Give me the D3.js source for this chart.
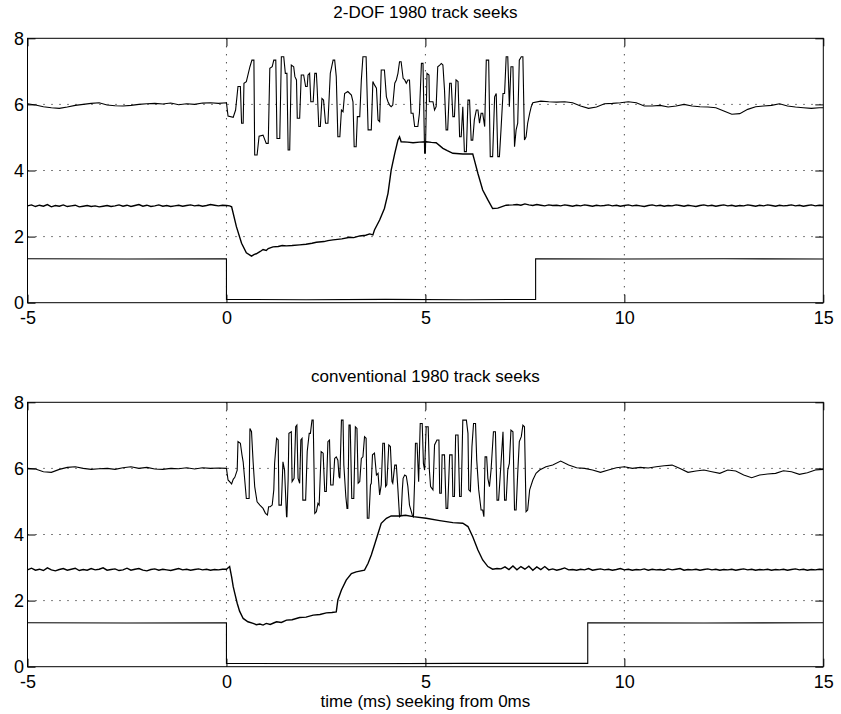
<!DOCTYPE html>
<html>
<head>
<meta charset="utf-8">
<script src="https://cdn.jsdelivr.net/npm/d3@7/dist/d3.min.js"></script>
<style>
  html, body { margin: 0; padding: 0; background: #fff; }
  svg { display: block; }
  text { font-family: "Liberation Sans", Arial, Helvetica, sans-serif; fill: #000; }
</style>
</head>
<body>
<svg id="chart" width="841" height="714"></svg>
<script>
// ---------------- DATA ----------------
const xTicks = [-5, 0, 5, 10, 15];
const yTicks = [0, 2, 4, 6, 8];
const gridX = [0, 5, 10];
const gridY = [2, 4, 6];
const titles = ["2-DOF 1980 track seeks", "conventional 1980 track seeks"];
const xLabel = "time (ms) seeking from 0ms";

// ---- top panel (2-DOF) ----
// upper trace (~6): pre-seek samples every 0.2 ms from -5 ms
const dofUpperPre = [6.02,5.98,5.93,5.90,5.88,5.92,5.97,6.00,6.03,6.05,5.98,5.96,5.95,5.97,6.00,6.02,6.03,6.01,6.04,5.99,6.02,6.00,6.04,6.05,6.03,6.05];
// upper trace during seek: [t, value]
const dofUpperSeek = [[0.00,6.05],[0.04,5.65],[0.17,5.61],[0.23,5.83],[0.29,6.54],[0.35,6.54],[0.38,5.43],[0.42,5.43],[0.44,6.64],[0.50,6.69],[0.59,7.14],[0.64,7.34],[0.69,7.34],[0.71,4.47],[0.77,4.47],[0.82,5.04],[0.92,5.07],[1.00,4.82],[1.05,4.82],[1.09,7.09],[1.15,7.14],[1.19,7.34],[1.24,7.34],[1.27,4.97],[1.34,4.97],[1.38,7.44],[1.44,7.44],[1.48,6.94],[1.52,6.94],[1.55,4.62],[1.59,4.62],[1.63,7.19],[1.69,7.14],[1.72,6.84],[1.76,6.74],[1.78,5.58],[1.84,5.58],[1.88,6.89],[1.94,6.89],[1.99,6.54],[2.03,6.54],[2.05,6.89],[2.09,6.94],[2.12,6.08],[2.18,6.08],[2.22,6.94],[2.26,6.94],[2.28,6.49],[2.32,5.33],[2.36,5.33],[2.40,6.18],[2.44,6.13],[2.49,5.43],[2.55,5.43],[2.61,6.94],[2.68,7.34],[2.72,7.34],[2.76,6.84],[2.80,5.02],[2.85,5.02],[2.89,5.83],[2.93,5.78],[2.97,6.33],[3.05,6.39],[3.14,6.28],[3.18,6.08],[3.21,4.72],[3.26,4.72],[3.29,5.63],[3.35,5.63],[3.39,6.74],[3.43,7.44],[3.51,7.44],[3.56,5.23],[3.64,5.23],[3.68,6.69],[3.72,6.59],[3.77,6.49],[3.81,5.53],[3.85,5.48],[3.89,7.04],[3.97,7.04],[4.02,6.23],[4.06,6.08],[4.10,5.98],[4.14,5.93],[4.18,5.98],[4.23,6.64],[4.27,6.74],[4.31,6.94],[4.35,7.29],[4.39,7.29],[4.44,6.79],[4.48,6.74],[4.52,6.64],[4.56,6.74],[4.60,6.74],[4.64,5.73],[4.69,5.73],[4.73,5.33],[4.81,5.33],[4.85,5.73],[4.90,7.24],[4.94,7.24],[4.98,4.52],[5.00,4.52],[5.04,6.94],[5.09,6.89],[5.10,6.08],[5.19,6.08],[5.23,5.83],[5.27,5.93],[5.31,7.14],[5.36,7.19],[5.40,7.24],[5.44,7.19],[5.48,6.44],[5.52,5.23],[5.56,5.23],[5.61,6.64],[5.65,6.64],[5.69,5.63],[5.73,5.63],[5.77,6.74],[5.82,6.69],[5.86,5.02],[5.90,5.02],[5.94,5.93],[5.98,4.57],[6.03,4.57],[6.07,6.13],[6.11,6.13],[6.15,4.92],[6.19,4.92],[6.23,5.53],[6.28,5.83],[6.32,5.83],[6.36,5.43],[6.40,5.73],[6.44,5.73],[6.49,5.33],[6.53,7.34],[6.59,7.34],[6.63,4.42],[6.69,4.42],[6.74,6.23],[6.78,6.33],[6.82,4.42],[6.86,4.42],[6.90,5.23],[6.95,6.33],[6.99,6.33],[7.03,7.44],[7.07,7.44],[7.11,5.93],[7.15,7.14],[7.20,7.14],[7.24,4.72],[7.28,5.23],[7.32,5.43],[7.36,7.34],[7.41,7.44],[7.45,7.44],[7.49,4.92],[7.53,5.02],[7.57,5.43],[7.62,5.73],[7.66,5.93]];
// upper trace after seek: samples every 0.2 ms from 7.7 ms
const dofUpperPost = [6.05,6.10,6.08,6.07,6.08,6.05,5.95,5.88,5.92,6.02,6.03,6.05,6.08,6.05,5.95,5.95,5.97,5.92,5.95,6.00,5.95,5.93,5.92,5.90,5.80,5.70,5.72,5.85,5.93,5.95,5.97,6.02,5.95,5.92,5.90,5.88,5.90,5.90];

// middle trace (~2.9): pre-seek samples every 0.1 ms from -5 ms
const dofMidPre = [2.93,2.96,2.91,2.95,2.92,2.97,2.90,2.94,2.92,2.96,2.91,2.93,2.95,2.90,2.92,2.94,2.91,2.93,2.90,2.92,2.94,2.91,2.93,2.96,2.92,2.95,2.91,2.94,2.97,2.92,2.95,2.91,2.93,2.96,2.92,2.94,2.91,2.93,2.95,2.92,2.94,2.96,2.93,2.95,2.92,2.94,2.97,2.95,2.93,2.95];
const dofMidSeek = [[0.00,2.94],[0.08,2.93],[0.13,2.90],[0.25,2.30],[0.38,1.80],[0.50,1.51],[0.63,1.41],[0.70,1.46],[0.75,1.48],[0.85,1.55],[0.92,1.61],[1.00,1.58],[1.05,1.64],[1.17,1.69],[1.30,1.70],[1.40,1.73],[1.51,1.72],[1.65,1.73],[1.84,1.75],[2.00,1.77],[2.15,1.80],[2.26,1.83],[2.45,1.85],[2.55,1.88],[2.68,1.90],[2.90,1.93],[3.10,1.98],[3.20,1.97],[3.35,2.02],[3.50,2.04],[3.60,2.08],[3.68,2.05],[3.72,2.20],[3.85,2.50],[3.97,2.85],[4.06,3.31],[4.14,4.01],[4.23,4.52],[4.31,4.92],[4.35,5.02],[4.39,4.87],[4.55,4.86],[4.69,4.84],[4.85,4.86],[5.02,4.87],[5.15,4.85],[5.27,4.84],[5.44,4.67],[5.55,4.60],[5.69,4.52],[5.94,4.50],[6.19,4.50],[6.23,4.32],[6.32,3.91],[6.44,3.41],[6.57,3.11],[6.69,2.85],[6.82,2.86],[7.03,2.95],[7.20,2.96]];
// middle trace after seek: samples every 0.1 ms from 7.3 ms
const dofMidPost = [2.97,2.95,2.99,2.96,2.94,2.97,2.95,2.93,2.96,2.94,2.95,2.93,2.96,2.94,2.92,2.95,2.93,2.96,2.94,2.92,2.95,2.93,2.94,2.96,2.93,2.95,2.92,2.94,2.96,2.93,2.95,2.93,2.91,2.94,2.96,2.93,2.95,2.92,2.94,2.93,2.96,2.94,2.92,2.95,2.93,2.91,2.94,2.96,2.93,2.95,2.92,2.94,2.96,2.93,2.95,2.92,2.94,2.93,2.96,2.94,2.92,2.95,2.93,2.96,2.94,2.92,2.95,2.93,2.94,2.96,2.93,2.95,2.92,2.94,2.96,2.93,2.95,2.94,2.93];

// lower trace (seek gate)
const dofLower = [[-5,1.33],[-2.5,1.32],[0,1.33],[0,0.10],[2,0.09],[4,0.10],[6,0.09],[7.77,0.10],[7.77,1.33],[10,1.32],[12.5,1.33],[15,1.32]];

// ---- bottom panel (conventional) ----
const convUpperPre = [6.00,5.98,5.90,5.88,5.97,6.03,6.05,6.00,5.97,5.99,6.00,5.97,6.02,6.05,6.00,6.03,5.98,5.97,6.00,5.99,6.02,5.98,6.02,6.00,6.01,6.00];
const convUpperSeek = [[0.00,6.00],[0.04,5.65],[0.13,5.53],[0.17,5.67],[0.21,5.73],[0.27,5.95],[0.29,6.81],[0.35,6.76],[0.39,6.41],[0.42,6.20],[0.50,5.09],[0.57,5.09],[0.59,7.21],[0.63,7.11],[0.67,6.20],[0.71,5.45],[0.77,4.99],[0.84,4.89],[0.92,4.79],[0.98,4.64],[1.03,4.59],[1.06,4.84],[1.10,4.84],[1.15,4.89],[1.19,5.35],[1.21,6.15],[1.26,6.91],[1.30,6.86],[1.32,4.89],[1.38,4.89],[1.42,6.20],[1.46,5.95],[1.51,4.54],[1.52,4.54],[1.55,5.65],[1.57,7.06],[1.63,7.11],[1.65,5.60],[1.70,5.70],[1.74,7.26],[1.77,7.31],[1.80,5.70],[1.84,5.55],[1.87,6.86],[1.90,6.91],[1.92,5.04],[1.99,5.04],[2.03,6.51],[2.08,7.06],[2.11,7.06],[2.15,7.46],[2.18,7.46],[2.22,4.64],[2.26,4.69],[2.30,4.94],[2.33,4.89],[2.38,6.51],[2.43,6.46],[2.47,5.30],[2.51,5.30],[2.55,6.81],[2.59,6.86],[2.62,5.50],[2.68,5.50],[2.72,6.30],[2.76,6.35],[2.80,6.25],[2.83,5.75],[2.85,5.70],[2.89,7.46],[2.93,7.46],[2.95,6.10],[3.00,5.15],[3.03,4.79],[3.05,4.79],[3.08,7.31],[3.11,7.31],[3.15,5.09],[3.20,5.09],[3.24,7.26],[3.28,7.21],[3.31,5.55],[3.35,5.60],[3.39,6.30],[3.43,6.35],[3.47,6.96],[3.51,6.91],[3.54,4.49],[3.58,4.49],[3.62,5.50],[3.64,5.55],[3.67,6.41],[3.72,6.46],[3.77,5.80],[3.81,5.85],[3.85,5.20],[3.89,5.50],[3.93,6.76],[3.97,6.76],[4.00,5.45],[4.03,5.50],[4.08,6.71],[4.12,6.66],[4.16,5.60],[4.18,5.55],[4.23,6.10],[4.27,6.10],[4.31,5.35],[4.35,4.54],[4.39,4.59],[4.42,5.35],[4.44,5.70],[4.48,5.80],[4.52,5.77],[4.56,5.45],[4.60,4.89],[4.67,4.59],[4.70,4.54],[4.73,5.65],[4.75,6.76],[4.79,6.76],[4.83,5.60],[4.87,7.36],[4.92,7.36],[4.95,6.15],[4.98,5.95],[5.02,7.26],[5.07,7.26],[5.10,5.95],[5.13,5.45],[5.19,5.35],[5.23,6.71],[5.29,6.86],[5.34,6.86],[5.36,5.25],[5.40,5.25],[5.42,6.41],[5.48,6.41],[5.52,4.79],[5.56,4.79],[5.61,6.41],[5.67,6.41],[5.69,5.15],[5.73,5.15],[5.76,7.01],[5.82,7.01],[5.86,5.15],[5.90,5.15],[5.94,7.46],[6.03,7.46],[6.07,7.06],[6.09,5.35],[6.13,5.30],[6.17,6.66],[6.21,7.36],[6.26,7.36],[6.29,6.25],[6.34,5.35],[6.40,4.74],[6.44,4.74],[6.47,4.54],[6.50,6.35],[6.54,6.35],[6.57,5.70],[6.61,5.45],[6.65,5.95],[6.71,7.11],[6.76,7.11],[6.80,5.04],[6.84,5.04],[6.90,6.15],[6.95,7.11],[6.99,5.04],[7.03,5.04],[7.07,5.95],[7.11,6.15],[7.15,7.16],[7.20,7.11],[7.24,4.74],[7.28,4.74],[7.32,5.85],[7.36,6.81],[7.41,6.96],[7.45,7.31],[7.49,7.26],[7.53,4.69],[7.57,4.74],[7.62,5.35],[7.70,5.65],[7.78,5.85],[7.87,5.95],[8.03,6.05]];
// upper trace after seek: samples every 0.2 ms from 8.2 ms
const convUpperPost = [6.10,6.22,6.10,6.02,6.00,5.95,5.88,5.95,6.02,6.05,6.00,6.03,6.01,6.05,6.08,6.10,6.00,5.88,5.92,5.95,5.90,5.85,5.95,5.92,5.80,5.72,5.80,5.83,5.85,5.93,5.90,5.82,5.87,5.95,5.97];

const convMidPre = [2.93,2.98,2.92,2.95,2.91,2.99,2.93,2.90,2.94,2.97,2.92,2.95,2.98,2.91,2.94,2.92,2.97,2.93,2.95,2.99,2.92,2.94,2.96,2.91,2.93,2.98,2.92,2.95,2.97,2.92,2.90,2.94,2.96,2.92,2.95,2.93,2.91,2.94,2.97,2.93,2.95,2.92,2.94,2.96,2.93,2.95,2.92,2.94,2.93,2.95];
const convMidSeek = [[0.00,2.95],[0.08,3.03],[0.13,2.72],[0.17,2.42],[0.21,2.22],[0.27,1.92],[0.33,1.68],[0.42,1.46],[0.54,1.36],[0.67,1.31],[0.75,1.27],[0.84,1.29],[0.92,1.26],[1.00,1.31],[1.10,1.28],[1.20,1.33],[1.26,1.36],[1.38,1.34],[1.51,1.41],[1.65,1.42],[1.84,1.49],[2.00,1.50],[2.18,1.56],[2.35,1.58],[2.51,1.63],[2.65,1.64],[2.76,1.66],[2.80,2.02],[2.89,2.32],[3.01,2.62],[3.14,2.82],[3.26,2.87],[3.47,2.92],[3.56,3.13],[3.64,3.38],[3.72,3.68],[3.81,4.03],[3.89,4.34],[4.02,4.49],[4.14,4.56],[4.35,4.56],[4.50,4.58],[4.69,4.54],[5.02,4.49],[5.36,4.42],[5.69,4.36],[5.94,4.34],[6.07,4.24],[6.19,3.93],[6.32,3.53],[6.44,3.23],[6.57,3.03],[6.69,2.95],[6.80,2.97]];
// middle trace after seek: samples every 0.1 ms from 6.9 ms
const convMidPost = [2.96,3.02,2.94,3.05,2.93,3.03,2.95,3.04,2.92,3.02,2.94,3.03,2.93,2.96,2.92,2.95,2.99,2.93,2.94,2.92,2.95,2.93,2.97,2.92,2.94,2.96,2.93,2.95,2.92,2.94,2.97,2.93,2.95,2.92,2.94,2.93,2.96,2.92,2.95,2.93,2.94,2.92,2.96,2.93,2.95,2.97,2.92,2.94,2.93,2.95,2.92,2.94,2.96,2.93,2.95,2.92,2.94,2.93,2.95,2.92,2.94,2.96,2.93,2.95,2.92,2.94,2.93,2.95,2.92,2.94,2.93,2.95,2.92,2.94,2.96,2.93,2.95,2.92,2.94,2.93,2.95,2.94,2.95];

const convLower = [[-5,1.33],[-2.5,1.32],[0,1.33],[0,0.10],[3,0.09],[6,0.10],[9.08,0.10],[9.08,1.33],[12,1.32],[15,1.33]];

// -------------- helpers --------------
function seq(t0, dt, vals) { return vals.map((v, i) => [t0 + i * dt, v]); }

const panels = [
  { title: titles[0], top: 38.3, traces: [
      seq(-5, 0.2, dofUpperPre).concat(dofUpperSeek, seq(7.7, 0.2, dofUpperPost)),
      seq(-5, 0.1, dofMidPre).concat(dofMidSeek, seq(7.3, 0.1, dofMidPost)),
      dofLower ] },
  { title: titles[1], top: 402.3, traces: [
      seq(-5, 0.2, convUpperPre).concat(convUpperSeek, seq(8.2, 0.2, convUpperPost)),
      seq(-5, 0.1, convMidPre).concat(convMidSeek, seq(6.9, 0.1, convMidPost)),
      convLower ] }
];

// -------------- drawing --------------
const svg = d3.select("#chart");
const L = 27.5, R = 823.3, H = 264.4;
const x = d3.scaleLinear().domain([-5, 15]).range([L, R]);
const traceWidths = [1.1, 1.4, 1.1];

panels.forEach((p, pi) => {
  const y = d3.scaleLinear().domain([0, 8]).range([p.top + H, p.top]);
  const g = svg.append("g");

  // clip
  const cid = "clip" + pi;
  svg.append("clipPath").attr("id", cid).append("rect")
    .attr("x", L).attr("y", p.top).attr("width", R - L).attr("height", H);

  // grid
  g.selectAll(".gx").data(gridX).enter().append("line")
    .attr("x1", d => x(d)).attr("x2", d => x(d)).attr("y1", p.top).attr("y2", p.top + H)
    .attr("stroke", "#000").attr("stroke-width", 1).attr("stroke-dasharray", "1,7");
  g.selectAll(".gy").data(gridY).enter().append("line")
    .attr("y1", d => y(d)).attr("y2", d => y(d)).attr("x1", L).attr("x2", R)
    .attr("stroke", "#000").attr("stroke-width", 1).attr("stroke-dasharray", "1,7");

  // traces
  const line = d3.line().x(d => x(d[0])).y(d => y(d[1]));
  g.append("g").attr("clip-path", `url(#${cid})`).selectAll("path").data(p.traces).enter()
    .append("path").attr("d", line).attr("fill", "none")
    .attr("stroke", "#000").attr("stroke-width", (d, i) => traceWidths[i]).attr("stroke-linejoin", "miter");

  // axes (ticks inward)
  const fs = "18px";
  const ax = g.append("g").attr("transform", `translate(0,${p.top + H})`)
    .call(d3.axisBottom(x).tickValues(xTicks).tickSizeInner(-8).tickSizeOuter(0).tickPadding(8.7).tickFormat(d3.format("d")));
  const ay = g.append("g").attr("transform", `translate(${L},0)`)
    .call(d3.axisLeft(y).tickValues(yTicks).tickSizeInner(-8).tickSizeOuter(0).tickPadding(3.5).tickFormat(d3.format("d")));
  const at = g.append("g").attr("transform", `translate(0,${p.top})`)
    .call(d3.axisTop(x).tickValues(xTicks).tickSizeInner(-8).tickSizeOuter(0).tickFormat(""));
  const ar = g.append("g").attr("transform", `translate(${R},0)`)
    .call(d3.axisRight(y).tickValues(yTicks).tickSizeInner(-8).tickSizeOuter(0).tickFormat(""));
  [ax, ay, at, ar].forEach(a => {
    a.select(".domain").remove();
    a.selectAll("line").attr("stroke", "#000");
    a.selectAll("text").style("font-size", fs).attr("fill", "#000")
      .style("font-family", '"Liberation Sans", Arial, Helvetica, sans-serif');
  });
  ax.selectAll("text").text(d => d < 0 ? "-" + Math.abs(d) : d);

  // frame
  g.append("rect").attr("x", L).attr("y", p.top).attr("width", R - L).attr("height", H)
    .attr("fill", "none").attr("stroke", "#000").attr("stroke-width", 1);

  // title
  svg.append("text").attr("x", (L + R) / 2).attr("y", p.top - 20)
    .attr("text-anchor", "middle").style("font-size", "17px").text(p.title);
});

svg.append("text").attr("x", (L + R) / 2).attr("y", 707)
  .attr("text-anchor", "middle").style("font-size", "17px").text(xLabel);
</script>
</body>
</html>
